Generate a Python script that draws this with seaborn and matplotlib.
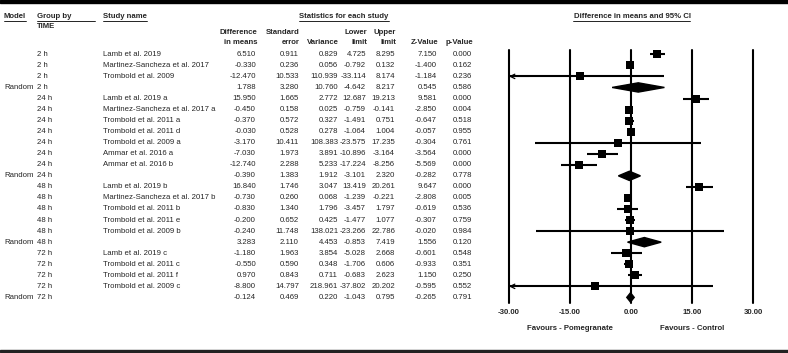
import numpy as np
import pandas as pd
import seaborn as sns
import matplotlib.pyplot as plt
from matplotlib.patches import Polygon, Rectangle
from matplotlib.lines import Line2D

# data
model = ["", "", "", "Random",
         "", "", "", "", "", "", "", "Random",
         "", "", "", "", "", "Random",
         "", "", "", "", "Random"]
group = ["2 h"] * 4 + ["24 h"] * 8 + ["48 h"] * 6 + ["72 h"] * 5
study = ["Lamb et al. 2019", "Martinez-Sancheza et al. 2017", "Trombold et al. 2009", "",
         "Lamb et al. 2019 a", "Martinez-Sancheza et al. 2017 a", "Trombold et al. 2011 a",
         "Trombold et al. 2011 d", "Trombold et al. 2009 a", "Ammar et al. 2016 a",
         "Ammar et al. 2016 b", "",
         "Lamb et al. 2019 b", "Martinez-Sancheza et al. 2017 b", "Trombold et al. 2011 b",
         "Trombold et al. 2011 e", "Trombold et al. 2009 b", "",
         "Lamb et al. 2019 c", "Trombold et al. 2011 c", "Trombold et al. 2011 f",
         "Trombold et al. 2009 c", ""]
diff = [6.510, -0.330, -12.470, 1.788, 15.950, -0.450, -0.370, -0.030, -3.170, -7.030,
        -12.740, -0.390, 16.840, -0.730, -0.830, -0.200, -0.240, 3.283, -1.180, -0.550,
        0.970, -8.800, -0.124]
se = [0.911, 0.236, 10.533, 3.280, 1.665, 0.158, 0.572, 0.528, 10.411, 1.973, 2.288,
      1.383, 1.746, 0.260, 1.340, 0.652, 11.748, 2.110, 1.963, 0.590, 0.843, 14.797, 0.469]
variance = [0.829, 0.056, 110.939, 10.760, 2.772, 0.025, 0.327, 0.278, 108.383, 3.891,
            5.233, 1.912, 3.047, 0.068, 1.796, 0.425, 138.021, 4.453, 3.854, 0.348, 0.711,
            218.961, 0.220]
lower = [4.725, -0.792, -33.114, -4.642, 12.687, -0.759, -1.491, -1.064, -23.575, -10.896,
         -17.224, -3.101, 13.419, -1.239, -3.457, -1.477, -23.266, -0.853, -5.028, -1.706,
         -0.683, -37.802, -1.043]
upper = [8.295, 0.132, 8.174, 8.217, 19.213, -0.141, 0.751, 1.004, 17.235, -3.164, -8.256,
         2.320, 20.261, -0.221, 1.797, 1.077, 22.786, 7.419, 2.668, 0.606, 2.623, 20.202,
         0.795]
zval = [7.150, -1.400, -1.184, 0.545, 9.581, -2.850, -0.647, -0.057, -0.304, -3.564,
        -5.569, -0.282, 9.647, -2.808, -0.619, -0.307, -0.020, 1.556, -0.601, -0.933,
        1.150, -0.595, -0.265]
pval = [0.000, 0.162, 0.236, 0.586, 0.000, 0.004, 0.518, 0.955, 0.761, 0.000, 0.000,
        0.778, 0.000, 0.005, 0.536, 0.759, 0.984, 0.120, 0.548, 0.351, 0.250, 0.552, 0.791]
xticks = [-30, -15, 0, 15, 30]
xticklabels = ["-30.00", "-15.00", "0.00", "15.00", "30.00"]

df = pd.DataFrame({"model": model, "group": group, "study": study, "diff": diff,
                   "se": se, "var": variance, "lower": lower, "upper": upper,
                   "z": zval, "p": pval})
df["row"] = np.arange(len(df))
df["summary"] = df["model"] == "Random"

sns.set_theme(style="white")
plt.rcParams["font.family"] = ["Liberation Sans", "DejaVu Sans"]
FS = 5.6

W, H = 788, 353
fig = plt.figure(figsize=(W / 100, H / 100), dpi=100)
fx = lambda px: px / W
fy = lambda py: 1 - py / H

# frame bands
fig.patches.append(Rectangle((0, fy(3)), 1, 3 / H, transform=fig.transFigure,
                             color="black", zorder=5))
fig.patches.append(Rectangle((0, fy(351.5)), 1, 1.5 / H, transform=fig.transFigure,
                             color="#222222", zorder=5))

# header
underlined = []
underlined.append(fig.text(fx(4), fy(16.5), "Model", fontsize=FS, weight="bold", va="center"))
fig.text(fx(37), fy(16.5), "Group by", fontsize=FS, weight="bold", va="center")
fig.text(fx(37), fy(26), "TIME", fontsize=FS, weight="bold", va="center")
underlined.append(fig.text(fx(103), fy(16.5), "Study name", fontsize=FS, weight="bold", va="center"))
underlined.append(fig.text(fx(344), fy(16.5), "Statistics for each study", fontsize=FS,
                           weight="bold", va="center", ha="center"))
underlined.append(fig.text(fx(632), fy(16.5), "Difference in means and 95% CI", fontsize=FS,
                           weight="bold", va="center", ha="center"))
fig.lines.append(Line2D([fx(37), fx(95)], [fy(21), fy(21)], transform=fig.transFigure,
                        color="black", lw=0.6))

col_right = {"diff": 256, "se": 299, "var": 338, "lower": 366, "upper": 395, "z": 437, "p": 472}
col_head = {"diff": ("Difference", "in means"), "se": ("Standard", "error"),
            "var": ("", "Variance"), "lower": ("Lower", "limit"), "upper": ("Upper", "limit"),
            "z": ("", "Z-Value"), "p": ("", "p-Value")}
for key, (l1, l2) in col_head.items():
    fig.text(fx(col_right[key] + 1), fy(32), l1, fontsize=FS, weight="bold", ha="right", va="center")
    fig.text(fx(col_right[key] + 1), fy(42), l2, fontsize=FS, weight="bold", ha="right", va="center")

row_y = lambda r: 54.3 + 11.05 * r
for _, rw in df.iterrows():
    y = fy(row_y(rw["row"]))
    fig.text(fx(4), y, rw["model"], fontsize=FS, va="center")
    fig.text(fx(37), y, rw["group"], fontsize=FS, va="center")
    fig.text(fx(103), y, rw["study"], fontsize=FS, va="center")
    for key in col_right:
        fig.text(fx(col_right[key]), y, f"{rw[key]:.3f}", fontsize=FS, va="center", ha="right")

# forest panel
top, bot = 50, 303
ax = fig.add_axes([fx(509), fy(bot), (753 - 509) / W, (bot - top) / H])
ax.set_xlim(-30, 30)
ax.set_ylim((bot - 54.3) / 11.05, (top - 54.3) / 11.05)
for s in ax.spines.values():
    s.set_visible(False)
for t in xticks:
    ax.axvline(t, color="black", lw=1.5, clip_on=False, zorder=1)

studies = df[~df["summary"]]
summ = df[df["summary"]]
ax.hlines(studies["row"], studies["lower"].clip(-30, 30), studies["upper"].clip(-30, 30),
          color="black", lw=1.5, zorder=2)
sns.scatterplot(data=studies, x="diff", y="row", marker="s", s=40, color="black",
                linewidth=0, ax=ax, legend=False, zorder=3)
for _, rw in studies[studies["lower"] < -30].iterrows():
    ax.annotate("", xy=(-30, rw["row"]), xytext=(-25, rw["row"]),
                arrowprops=dict(arrowstyle="->", lw=0.9, color="black", mutation_scale=8,
                                shrinkA=0, shrinkB=0), annotation_clip=False)
for _, rw in summ.iterrows():
    r = rw["row"]
    ax.add_patch(Polygon([(rw["lower"], r), (rw["diff"], r - 0.42), (rw["upper"], r),
                          (rw["diff"], r + 0.42)], closed=True, color="black", zorder=3))

ax.set_xticks(xticks)
ax.set_xticklabels(xticklabels, fontsize=FS, weight="bold")
ax.tick_params(axis="x", length=0, pad=4)
ax.set_yticks([])
ax.set_xlabel("")
ax.set_ylabel("")
ax.set_facecolor("none")

fig.text(fx(570), fy(328), "Favours - Pomegranate", fontsize=FS, weight="bold", ha="center", va="center")
fig.text(fx(692), fy(328), "Favours - Control", fontsize=FS, weight="bold", ha="center", va="center")

# underline header titles
fig.canvas.draw()
inv = fig.transFigure.inverted()
for t in underlined:
    bb = t.get_window_extent()
    (x0, y0), (x1, _) = inv.transform([(bb.x0, bb.y0), (bb.x1, bb.y1)])
    fig.lines.append(Line2D([x0, x1], [y0 - 0.002, y0 - 0.002], transform=fig.transFigure,
                            color="black", lw=0.6))

fig.savefig("out.png", dpi=100)
